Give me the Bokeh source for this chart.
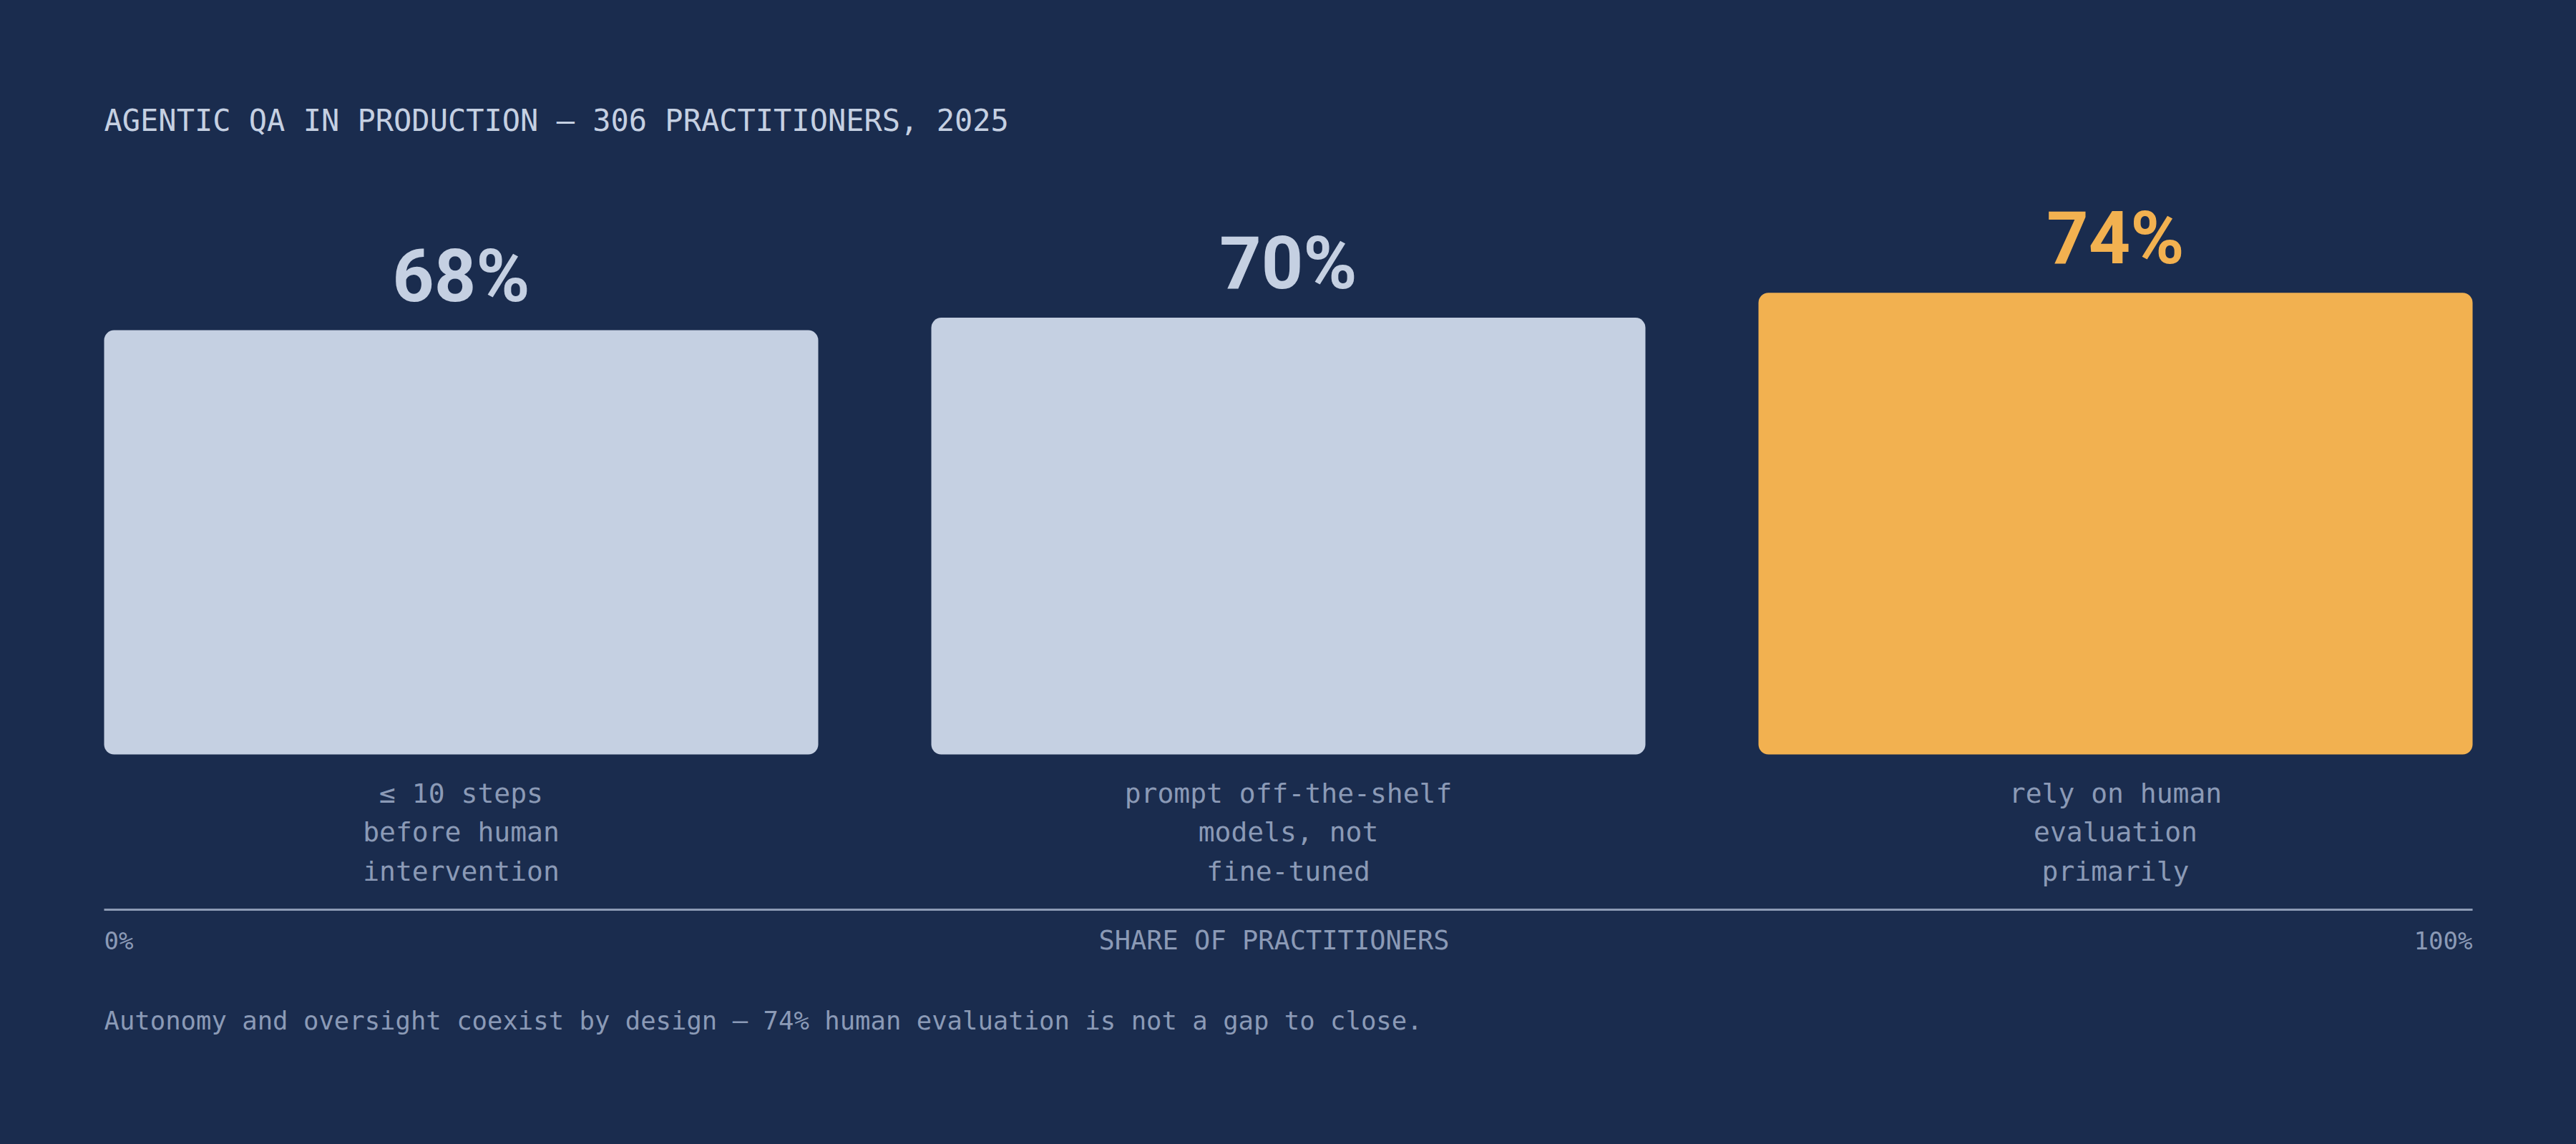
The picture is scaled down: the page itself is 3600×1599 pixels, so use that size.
from bokeh.plotting import figure
from bokeh.models import Range1d, ColumnDataSource
from bokeh.embed import file_html
from bokeh.resources import INLINE
from bokeh.core.properties import value

# ---- data ----
categories = ["≤ 10 steps\nbefore human\nintervention",
              "prompt off-the-shelf\nmodels, not\nfine-tuned",
              "rely on human\nevaluation\nprimarily"]
shares = [68, 70, 74]
share_labels = ["68%", "70%", "74%"]
highlight = [False, False, True]
axis_tick_labels = ["0%", "100%"]
title_text = "AGENTIC QA IN PRODUCTION — 306 PRACTITIONERS, 2025"
axis_title = "SHARE OF PRACTITIONERS"
footer_text = "Autonomy and oversight coexist by design — 74% human evaluation is not a gap to close."

# ---- style ----
BG = "#1a2c4e"
LIGHT = "#c5d0e2"
ORANGE = "#f2b150"
MUTED = "#8b9ab6"
MONO = "DejaVu Sans Mono"

W, H = 3584, 1583
# pixel geometry of the frame (figure pixels)
Y0_PX, Y100_PX = 1046, 174          # where 0% and 100% sit
UPP = 100.0 / (Y0_PX - Y100_PX)      # data units per pixel
X0_PX, XSTEP_PX = 636, 1156

def ypx(px):
    return (Y0_PX - px) * UPP

p = figure(width=W, height=H, output_backend="svg", toolbar_location=None,
           x_range=Range1d(-X0_PX / XSTEP_PX, (W - X0_PX) / XSTEP_PX),
           y_range=Range1d(ypx(H), ypx(0)),
           x_axis_type=None, y_axis_type=None, min_border=0)
p.background_fill_color = BG
p.border_fill_color = BG
p.outline_line_color = None
p.grid.visible = False

xs = list(range(len(shares)))
colors = [ORANGE if h else LIGHT for h in highlight]
src = ColumnDataSource(dict(x=xs, top=shares, color=colors, lab=share_labels, cat=categories))

bar_w = 998 / XSTEP_PX
p.vbar(x="x", top="top", bottom=0, width=bar_w, fill_color="color", line_color=None,
       border_radius=14, source=src)

# value labels
p.text(x="x", y="top", text="lab", source=src, text_color="color",
       text_font=value("Roboto"), text_font_style="bold", text_font_size="102px",
       text_align="center", text_baseline="alphabetic", y_offset=-76)

# category labels
p.text(x="x", y=0, text="cat", source=src, text_color=MUTED,
       text_font=value(MONO), text_font_size="38px", text_line_height=1.24,
       text_align="center", text_baseline="top", y_offset=32)

left = -bar_w / 2
right = len(shares) - 1 + bar_w / 2

# title
p.text(x=[left], y=[ypx(160)], text=[title_text], text_color=LIGHT,
       text_font=value(MONO), text_font_size="42px",
       text_align="left", text_baseline="middle")

# axis line
p.segment(x0=[left], x1=[right], y0=[ypx(1263)], y1=[ypx(1263)],
          line_color="#8d9bb5", line_width=3)

# axis labels
p.text(x=[left, right], y=[ypx(1306)] * 2, text=axis_tick_labels, text_color=MUTED,
       text_font=value(MONO), text_font_size="34px",
       text_align=["left", "right"], text_baseline="middle")
p.text(x=[(left + right) / 2], y=[ypx(1306)], text=[axis_title], text_color=MUTED,
       text_font=value(MONO), text_font_size="37px",
       text_align="center", text_baseline="middle", x_offset=-20)

# footer
p.text(x=[left], y=[ypx(1418)], text=[footer_text], text_color=MUTED,
       text_font=value(MONO), text_font_size="35.6px",
       text_align="left", text_baseline="middle")

html = file_html(p, INLINE)
html = html.replace("</head>", "<style>html,body{background:%s;margin:0;padding:0;} body{margin:8px;}</style></head>" % BG, 1)
open("out.html", "w").write(html)
